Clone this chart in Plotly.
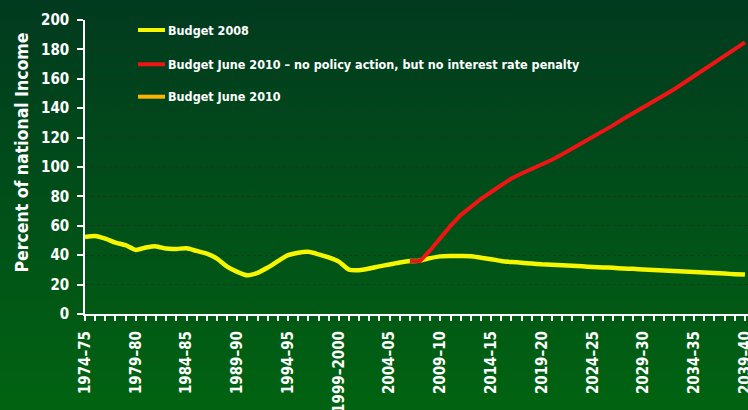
import base64
import plotly.graph_objects as go

# Fiscal years on the x axis (index 0 = 1974-75)
n_years = 66
tick_years = list(range(0, n_years, 5))
tick_labels = [
    "1974\u201375", "1979\u201380", "1984\u201385", "1989\u201390", "1994\u201395",
    "1999\u20132000", "2004\u201305", "2009\u201310", "2014\u201315", "2019\u201320",
    "2024\u201325", "2029\u201330", "2034\u201335", "2039\u201340",
]

# Budget 2008: debt as percent of national income, 1974-75 .. 2039-40
budget_2008 = [
    52.4, 53.1, 51.3, 48.6, 46.8, 43.6, 45.2, 46.0, 44.5, 44.3,
    44.7, 42.9, 41.1, 37.7, 32.3, 28.7, 26.3, 28.0, 31.6, 36.0,
    40.0, 41.7, 42.3, 40.6, 38.5, 35.6, 30.2, 29.8, 30.9, 32.4,
    33.7, 35.0, 36.0, 36.3, 38.0, 39.2, 39.4, 39.4, 39.3, 38.3,
    37.3, 36.1, 35.4, 34.9, 34.3, 33.8, 33.5, 33.1, 32.8, 32.4,
    32.0, 31.7, 31.4, 31.0, 30.7, 30.3, 30.0, 29.6, 29.3, 28.9,
    28.6, 28.2, 27.9, 27.5, 27.1, 26.8,
]

# Budget June 2010, no policy action (starts 2006-07, index 32)
no_action_start = 32
no_action = [
    36.0, 36.0, 43.4, 51.8, 59.9, 67.3, 73.1, 78.3, 83.0, 87.6,
    92.2, 95.6, 98.5, 101.4, 104.9, 108.7, 112.5, 116.4, 120.3, 124.3,
    128.3, 132.6, 136.6, 140.5, 144.5, 148.4, 152.7, 157.3, 161.9, 166.6,
    171.1, 175.6, 180.2, 184.8,
]

# Budget June 2010 (shares the outturn years with the red series)
june_2010_start = 32
june_2010 = [36.0, 36.0]

series_names = [
    "Budget 2008",
    "Budget June 2010 \u2013 no policy action, but no interest rate penalty",
    "Budget June 2010",
]
series_colors = ["#f6f600", "#f01414", "#fbb400"]

y_ticks = list(range(0, 201, 20))

FONT = "DejaVu Sans Condensed, DejaVu Sans, sans-serif"

fig = go.Figure()
fig.add_trace(go.Scatter(
    x=list(range(len(budget_2008))), y=budget_2008, mode="lines",
    line=dict(color=series_colors[0], width=4.5, shape="spline", smoothing=0.6),
    name=series_names[0], showlegend=False, hoverinfo="skip",
))
fig.add_trace(go.Scatter(
    x=list(range(june_2010_start, june_2010_start + len(june_2010))), y=june_2010,
    mode="lines", line=dict(color=series_colors[2], width=4),
    name=series_names[2], showlegend=False, hoverinfo="skip",
))
fig.add_trace(go.Scatter(
    x=list(range(no_action_start, no_action_start + len(no_action))), y=no_action,
    mode="lines", line=dict(color=series_colors[1], width=4),
    name=series_names[1], showlegend=False, hoverinfo="skip",
))

# Page background: vertical green gradient
svg = (
    '<svg xmlns="http://www.w3.org/2000/svg" width="748" height="410" preserveAspectRatio="none">'
    '<defs><linearGradient id="g" x1="0" y1="0" x2="0" y2="1">'
    '<stop offset="0" stop-color="#013a1f"/>'
    '<stop offset="0.5" stop-color="#014f19"/>'
    '<stop offset="1" stop-color="#016311"/>'
    '</linearGradient></defs>'
    '<rect width="748" height="410" fill="url(#g)"/></svg>'
)
bg_src = "data:image/svg+xml;base64," + base64.b64encode(svg.encode()).decode()

W, H = 748, 410
ML, MR, MT, MB = 85, 0, 20, 96
pw, ph = W - ML - MR, H - MT - MB


def px_x(px):
    return (px - ML) / pw


def px_y(py):
    return (H - MB - py) / ph


fig.add_layout_image(dict(
    source=bg_src, xref="paper", yref="paper",
    x=px_x(0), y=px_y(0), sizex=W / pw, sizey=H / ph,
    xanchor="left", yanchor="top", sizing="stretch", layer="below",
))

# Legend block in the upper left of the plot
legend_rows = [30, 64.3, 96.7]
for name, color, row in zip(series_names, series_colors, legend_rows):
    fig.add_shape(
        type="line", xref="paper", yref="paper",
        x0=px_x(138), x1=px_x(165), y0=px_y(row), y1=px_y(row),
        line=dict(color=color, width=4),
    )
    fig.add_annotation(
        text=name, xref="paper", yref="paper", x=px_x(166), y=px_y(row),
        xanchor="left", yanchor="middle", showarrow=False,
        font=dict(family=FONT, size=12.5, color="white", weight="bold"),
    )

fig.add_annotation(
    text="Percent of national Income", xref="paper", yref="paper",
    x=px_x(21), y=px_y(152.5), xanchor="center", yanchor="middle",
    textangle=-90, showarrow=False,
    font=dict(family=FONT, size=17.5, color="white", weight="bold"),
)

fig.update_layout(
    width=W, height=H,
    margin=dict(l=ML, r=MR, t=MT, b=MB, pad=0, autoexpand=False),
    paper_bgcolor="#014a1a", plot_bgcolor="rgba(0,0,0,0)",
    showlegend=False,
    xaxis=dict(
        range=[0, 65.3], tickmode="array", tickvals=tick_years, ticktext=tick_labels,
        tickangle=-90, ticks="outside", ticklen=5, tickwidth=1.5, tickcolor="white",
        showline=True, linecolor="white", linewidth=2, showgrid=False, zeroline=False,
        automargin=False, ticklabeloverflow="allow",
        tickfont=dict(family=FONT, size=15, color="white", weight="bold"),
        ticklabelstandoff=4,
        minor=dict(ticks="outside", ticklen=5, tickwidth=1.5, tickcolor="white",
                   dtick=1, tick0=0, showgrid=False),
    ),
    yaxis=dict(
        range=[0, 200], tickmode="array", tickvals=y_ticks,
        ticks="outside", ticklen=6, tickwidth=1.5, tickcolor="white",
        showline=True, linecolor="white", linewidth=1.5,
        showgrid=True, gridcolor="rgba(25,55,25,1)", gridwidth=1, griddash="dot",
        zeroline=False, automargin=False,
        tickfont=dict(family=FONT, size=15, color="white", weight="bold"),
        ticklabelstandoff=5,
    ),
)

fig.write_html("out.html")
